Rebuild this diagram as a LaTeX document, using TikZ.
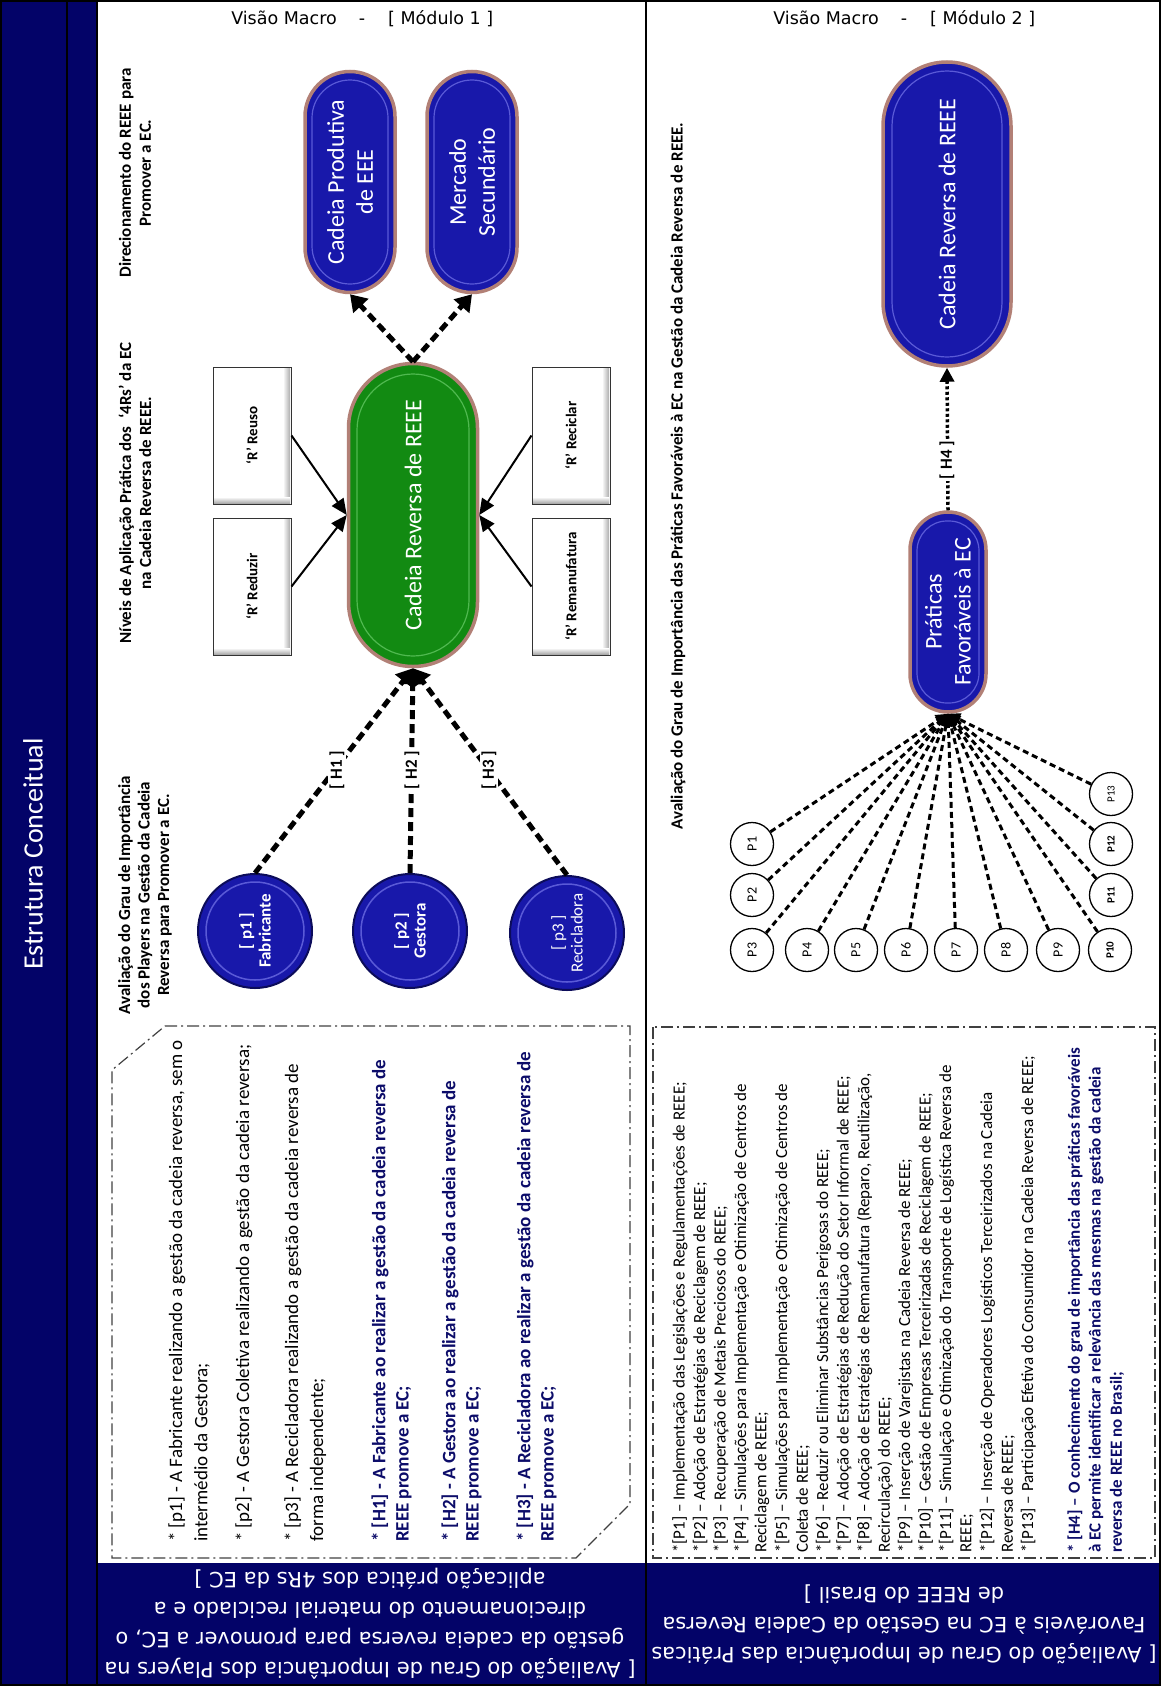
\documentclass[tikz,border=0pt]{standalone}
\usepackage{fontspec}
\setmainfont{Carlito}
\newfontfamily\verd{DejaVu Sans}
\usetikzlibrary{arrows.meta,shapes.misc}
\definecolor{navy}{RGB}{3,3,104}
\definecolor{pillblue}{RGB}{24,24,170}
\definecolor{pillrim}{RGB}{178,128,118}
\definecolor{pillgreen}{RGB}{18,138,18}
\definecolor{hnavy}{RGB}{12,12,105}
\definecolor{playerrim}{RGB}{12,12,90}
\definecolor{glow}{RGB}{90,90,215}
\definecolor{gglow}{RGB}{80,185,80}
\newcommand\fs[2]{\fontsize{#1}{#2}\selectfont}
\begin{document}
\begin{tikzpicture}[x=1pt,y=-1pt,
  pill/.style={rounded rectangle, draw=pillrim, line width=3.5pt, fill=pillblue, text=white, rotate=90, align=center, inner sep=0pt, font=\fs{24}{29}},
  gpill/.style={pill, fill=pillgreen},
  rbox/.style={rectangle, draw=black!80, line width=1pt, fill=white, rotate=90, minimum width=137pt, minimum height=78pt, inner sep=0pt, font=\bfseries\fs{15}{18}},
  player/.style={circle, fill=pillblue, draw=playerrim, line width=2pt, minimum size=114pt, inner sep=0pt, rotate=90, text=white, align=center, font=\bfseries\fs{17}{19}},
  pc/.style={circle, draw=black, line width=1.3pt, fill=white, minimum size=43pt, inner sep=0pt, rotate=90, font=\fs{14}{14}},
  pcs/.style={pc, font=\bfseries\fs{11}{11}},
  head/.style={rotate=90, align=center, inner sep=0pt, font=\bfseries\fs{17}{20}},
  hlabel/.style={rotate=90, fill=white, inner sep=2pt, font=\bfseries\fs{17}{17}},
  harrow/.style={line width=5pt, dash pattern=on 9pt off 5pt, -{Triangle[length=16pt,width=20pt]}},
  rarrow/.style={line width=2pt, -{Triangle[length=16pt,width=14pt]}},
  parrow/.style={line width=3pt, dash pattern=on 6pt off 4pt, -{Triangle[length=12pt,width=12pt]}},
  h4arrow/.style={line width=3.5pt, dash pattern=on 3pt off 2.5pt, -{Triangle[length=14pt,width=14pt]}},
  dbox/.style={line width=1.2pt, draw=black!75, dash pattern=on 12pt off 4pt on 2pt off 4pt},
  ta/.style={rotate=90, anchor=west, inner sep=0pt, font=\fs{19}{21}},
  tah/.style={ta, text=hnavy, font=\bfseries\fs{19}{21}},
  tb/.style={rotate=90, anchor=west, inner sep=0pt, font=\fs{17}{20}},
  tbh/.style={tb, text=hnavy, font=\bfseries\fs{17}{20}},
  striptxt/.style={rotate=180, text=white, align=center, inner sep=0pt, font=\verd\fs{21}{30}},
  ttl/.style={inner sep=0pt, font=\verd\fs{17.5}{20}}
]
\useasboundingbox (0,0) rectangle (1161,1686);

% frame and strips
\fill[navy] (0,0) rectangle (97,1686);
\fill[navy] (97,1563) rectangle (1161,1686);
\draw[line width=2pt] (67,0) -- (67,1686);
\draw[line width=1.5pt] (97,0) -- (97,1686);
\draw[line width=1.5pt] (646,0) -- (646,1686);
\draw[line width=2pt] (1,1) rectangle (1160,1685);

\node[rotate=90, text=white, font=\fs{28}{30}] (title) at (33,854) {Estrutura Conceitual};

% module titles
\node[ttl, anchor=base east] (m1a) at (337,25) {Visão Macro};
\node[ttl, anchor=base] (m1b) at (362,25) {-};
\node[ttl, anchor=base west] (m1c) at (388,25) {[ Módulo 1 ]};
\node[ttl, anchor=base east] (m2a) at (879,25) {Visão Macro};
\node[ttl, anchor=base] (m2b) at (904,25) {-};
\node[ttl, anchor=base west] (m2c) at (930,25) {[ Módulo 2 ]};

% headers
\node[head] (hdir) at (135,173) {Direcionamento do REEE para\\Promover a EC.};
\node[head] (hniv) at (135,493) {Níveis de Aplicação Prática dos ~‘4Rs’ da EC\\na Cadeia Reversa de REEE.};
\node[head, font=\bfseries\fs{17}{19.5}] (hply) at (145,895) {Avaliação do Grau de Importância\\dos Players na Gestão da Cadeia\\Reversa para Promover a EC.};
\node[head] (hm2) at (678,476) {Avaliação do Grau de Importância das Práticas Favoráveis à EC na Gestão da Cadeia Reversa de REEE.};

% module 1 nodes
\node[pill, minimum width=221pt, minimum height=90pt] (cp) at (350,182) {Cadeia Produtiva\\de EEE};
\node[pill, minimum width=221pt, minimum height=90pt] (ms) at (472,182) {Mercado\\Secundário};
\node[gpill, minimum width=303pt, minimum height=129pt] (green) at (413,515) {Cadeia Reversa de REEE};
% inner highlights of the pills
\draw[glow, line width=1.2pt, rounded corners=38pt] (312,80) rectangle (388,284);
\draw[glow, line width=1.2pt, rounded corners=38pt] (434,80) rectangle (510,284);
\draw[gglow, line width=1.2pt, rounded corners=56pt] (357,374) rectangle (469,656);

\node[rbox] (reuso) at (252,435.5) {‘R’ Reuso};
\node[rbox] (reduzir) at (252,586.5) {‘R’ Reduzir};
\node[rbox] (reciclar) at (571,435.5) {‘R’ Reciclar};
\node[rbox] (reman) at (571,586.5) {‘R’ Remanufatura};
\foreach \bx/\by in {252/435.5, 252/586.5, 571/435.5, 571/586.5}{
  \shade[left color=white, right color=gray!65] (\bx+31,\by-67.5) rectangle (\bx+38,\by+67.5);
  \shade[top color=white, bottom color=gray!65] (\bx-38,\by+61.5) rectangle (\bx+38,\by+67.5);
}

\node[player] (p1) at (255,931) {[ p1 ]\\Fabricante};
\node[player] (p2) at (410,931) {[ p2 ]\\Gestora};
\node[player, font=\fs{17}{19}] (p3) at (567,933) {[ p3 ]\\Recicladora};
\foreach \c in {p1,p2,p3}{\draw[glow, line width=1.5pt] (\c.center) circle (49);}

% module 1 connectors
\draw[harrow] (green.east) -- (cp.west);
\draw[harrow] (green.east) -- (ms.west);
\draw[rarrow] (reuso.south) -- (green.north);
\draw[rarrow] (reduzir.south) -- (green.north);
\draw[rarrow] (reciclar.north) -- (green.south);
\draw[rarrow] (reman.north) -- (green.south);
\draw[harrow] (p1.east) -- (green.west);
\draw[harrow] (p2.east) -- (green.west);
\draw[harrow] (p3.east) -- (green.west);
\node[hlabel] (h1) at (337,770) {[ H1 ]};
\node[hlabel] (h2) at (412,770) {[ H2 ]};
\node[hlabel] (h3) at (489,770) {[ H3 ]};

% module 2 nodes
\node[pill, minimum width=304pt, minimum height=128pt] (crev) at (947,214) {Cadeia Reversa de REEE};
\node[pill, minimum width=200pt, minimum height=76pt] (prat) at (948,612) {Práticas\\Favoráveis à EC};
\draw[glow, line width=1.2pt, rounded corners=55pt] (892,71) rectangle (1002,357);
\draw[glow, line width=1.2pt, rounded corners=30pt] (917,521) rectangle (979,703);
\draw[h4arrow] (prat.east) -- (crev.west);
\node[hlabel] (h4) at (947,460) {[ H4 ]};

\node[pc] (P1) at (752,844) {P1};
\node[pc] (P2) at (752,895) {P2};
\node[pc] (P3) at (752,950) {P3};
\node[pc] (P4) at (807,950) {P4};
\node[pc] (P5) at (856,950) {P5};
\node[pc] (P6) at (906,950) {P6};
\node[pc] (P7) at (956,950) {P7};
\node[pc] (P8) at (1006,950) {P8};
\node[pc] (P9) at (1058,950) {P9};
\node[pcs] (P10) at (1110,950) {P10};
\node[pcs] (P11) at (1111,895) {P11};
\node[pcs] (P12) at (1111,844) {P12};
\node[pcs, font=\fs{11}{11}] (P13) at (1111,794) {P13};
\foreach \k in {1,...,13}{\draw[parrow] (P\k) -- (prat.west);}

% dashed boxes
\draw[dbox] (165,1026) -- (630,1026) -- (630,1504) -- (576,1558) -- (112,1558) -- (112,1070) -- cycle;
\draw[dbox] (653,1027) rectangle (1155,1558);

% module 1 text
\node[ta] (t1) at (177,1542) {* [p1] - A Fabricante realizando a gestão da cadeia reversa, sem o};
\node[ta] (t2) at (202,1542) {intermédio da Gestora;};
\node[ta] (t3) at (244,1542) {* [p2] - A Gestora Coletiva realizando a gestão da cadeia reversa;};
\node[ta] (t4) at (293,1542) {* [p3] - A Recicladora realizando a gestão da cadeia reversa de};
\node[ta] (t5) at (318,1542) {forma independente;};
\node[tah] (t6) at (380,1542) {* [H1] - A Fabricante ao realizar a gestão da cadeia reversa de};
\node[tah] (t7) at (404,1542) {REEE promove a EC;};
\node[tah] (t8) at (450,1542) {* [H2] - A Gestora ao realizar a gestão da cadeia reversa de};
\node[tah] (t9) at (474,1542) {REEE promove a EC;};
\node[tah] (t10) at (525,1542) {* [H3] - A Recicladora ao realizar a gestão da cadeia reversa de};
\node[tah] (t11) at (549,1542) {REEE promove a EC;};

% module 2 text
\node[tb] (u1) at (680,1553) {*[P1] – Implementação das Legislações e Regulamentações de REEE;};
\node[tb] (u2) at (700.5,1553) {*[P2] – Adoção de Estratégias de Reciclagem de REEE;};
\node[tb] (u3) at (721,1553) {*[P3] – Recuperação de Metais Preciosos do REEE;};
\node[tb] (u4) at (741.5,1553) {*[P4] – Simulações para Implementação e Otimização de Centros de};
\node[tb] (u5) at (762,1553) {Reciclagem de REEE;};
\node[tb] (u6) at (782.5,1553) {*[P5] – Simulações para Implementação e Otimização de Centros de};
\node[tb] (u7) at (803,1553) {Coleta de REEE;};
\node[tb] (u8) at (823.5,1553) {*[P6] – Reduzir ou Eliminar Substâncias Perigosas do REEE;};
\node[tb] (u9) at (844,1553) {*[P7] – Adoção de Estratégias de Redução do Setor Informal de REEE;};
\node[tb] (u10) at (864.5,1553) {*[P8] – Adoção de Estratégias de Remanufatura (Reparo, Reutilização,};
\node[tb] (u11) at (885,1553) {Recirculação) do REEE;};
\node[tb] (u12) at (905.5,1553) {*[P9] – Inserção de Varejistas na Cadeia Reversa de REEE;};
\node[tb] (u13) at (926,1553) {*[P10] – Gestão de Empresas Terceirizadas de Reciclagem de REEE;};
\node[tb] (u14) at (946.5,1553) {*[P11] – Simulação e Otimização do Transporte de Logística Reversa de};
\node[tb] (u15) at (967,1553) {REEE;};
\node[tb] (u16) at (987.5,1553) {*[P12] – Inserção de Operadores Logísticos Terceirizados na Cadeia};
\node[tb] (u17) at (1008,1553) {Reversa de REEE;};
\node[tb] (u18) at (1028.5,1553) {*[P13] – Participação Efetiva do Consumidor na Cadeia Reversa de REEE;};
\node[tbh] (u19) at (1075,1553) {* [H4] – O conhecimento do grau de importância das práticas favoráveis};
\node[tbh] (u20) at (1096,1553) {à EC permite identificar a relevância das mesmas na gestão da cadeia};
\node[tbh] (u21) at (1117,1553) {reversa de REEE no Brasil;};

% bottom strips text
\node[striptxt] (s1) at (370,1624) {[ Avaliação do Grau de Importância dos Players na\\gestão da cadeia reversa para promover a EC, o\\direcionamento do material reciclado e a\\aplicação prática dos 4Rs da EC ]};
\node[striptxt] (s2) at (904,1624) {[ Avaliação do Grau de Importância das Práticas\\Favoráveis à EC na Gestão da Cadeia Reversa\\de REEE do Brasil ]};
\end{tikzpicture}
\end{document}
